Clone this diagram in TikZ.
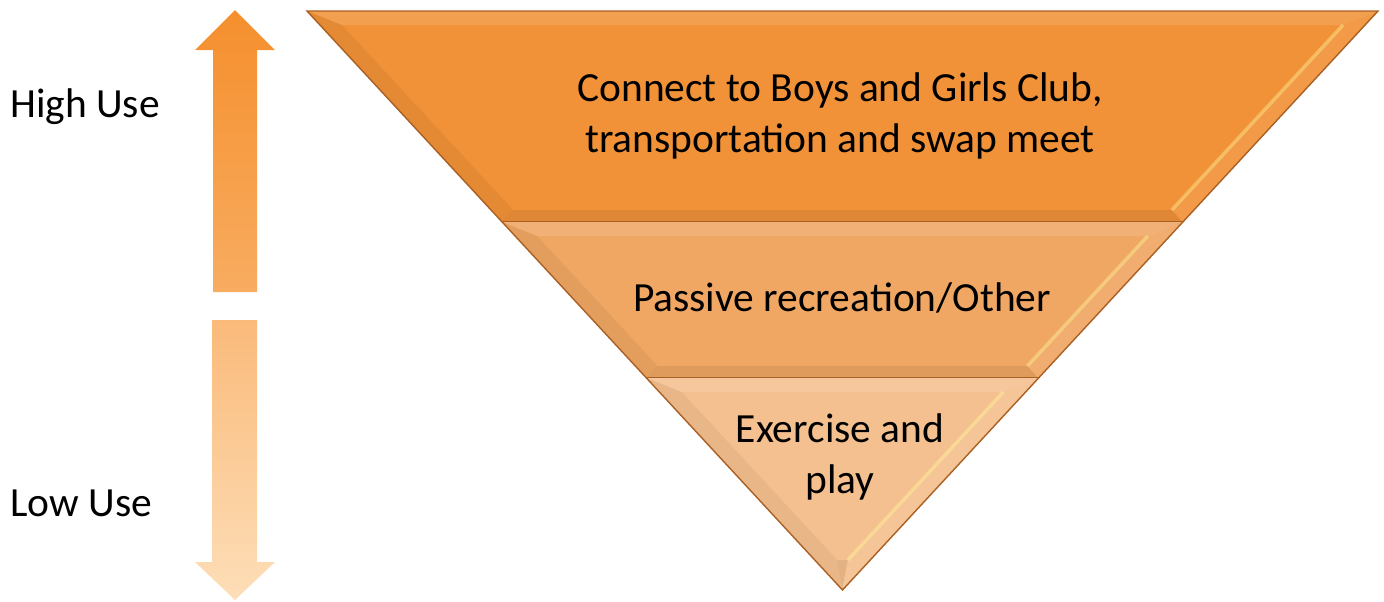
\documentclass[tikz,border=0pt]{standalone}
\usepackage{fontspec}
\setmainfont{Carlito}
\usetikzlibrary{calc, positioning}

\definecolor{bandA}{RGB}{241,146,56}
\definecolor{bandB}{RGB}{240,167,100}
\definecolor{bandC}{RGB}{245,192,143}
\definecolor{bandEdge}{RGB}{170,96,34}
\definecolor{upTop}{RGB}{245,143,45}
\definecolor{upBot}{RGB}{248,172,96}
\definecolor{downTop}{RGB}{250,186,122}
\definecolor{downBot}{RGB}{253,222,184}

\tikzset{
  band text/.style={font=\fontsize{23.6}{29}\selectfont, inner sep=0pt, align=center},
  side text/.style={font=\fontsize{23.6}{29}\selectfont, inner sep=0pt, anchor=west},
}

\begin{document}
\begin{tikzpicture}[x=0.02cm, y=-0.02cm]
\useasboundingbox (0,0) rectangle (1384,602);

% usage arrows
\shade[top color=upTop, bottom color=upBot]
  (235,10) -- (275,50) -- (257,50) -- (257,292) -- (213,292) -- (213,50) -- (195,50) -- cycle;
\shade[top color=downTop, bottom color=downBot]
  (212,320) -- (257,320) -- (257,562) -- (275,562) -- (235,600) -- (195,562) -- (212,562) -- cycle;

\node[side text] (high) at (10,107) {High Use};
\node[side text] (low) at (10,503) {Low Use};

% the three bands of the inverted pyramid, with a bevel
\foreach \ya/\yb/\yi/\col in {11/222/210/bandA, 222/378/366/bandB, 378/590/560/bandC}{
  \pgfmathsetmacro\la{307+0.9257*(\ya-11)}
  \pgfmathsetmacro\lb{307+0.9257*(\yb-11)}
  \pgfmathsetmacro\yt{\ya+14}
  \pgfmathsetmacro\lt{307+0.9257*(\yt-11)+22}
  \pgfmathsetmacro\li{307+0.9257*(\yi-11)+22}
  \fill[\col] (\la,\ya) -- ({1685-\la},\ya) -- ({1685-\lb},\yb) -- (\lb,\yb) -- cycle;
  % bevel faces
  \fill[white, opacity=.12] (\la,\ya) -- ({1685-\la},\ya) -- ({1685-\lt},\yt) -- (\lt,\yt) -- cycle;
  \fill[black, opacity=.05] (\la,\ya) -- (\lt,\yt) -- (\li,\yi) -- (\lb,\yb) -- cycle;
  \fill[black, opacity=.07] (\lb,\yb) -- (\li,\yi) -- ({1685-\li},\yi) -- ({1685-\lb},\yb) -- cycle;
  \fill[white, opacity=.08] ({1685-\la},\ya) -- ({1685-\lt},\yt) -- ({1685-\li},\yi) -- ({1685-\lb},\yb) -- cycle;
  \draw[yellow!40!white, opacity=.4, line width=2pt] ({1685-\lt},\yt) -- ({1685-\li},\yi);
  \draw[bandEdge, line width=1pt] (\lb,\yb) -- ({1685-\lb},\yb);
}
\draw[bandEdge, line width=.8pt] (307,11) -- (1378,11) -- (842.5,590) -- cycle;

\node[band text] (connect) at (840,116) {Connect to Boys and Girls Club,\\transportation and swap meet};
\node[band text] (passive) at (842,298) {Passive recreation/Other};
\node[band text] (exercise) at (840,457) {Exercise and\\play};
\end{tikzpicture}
\end{document}
